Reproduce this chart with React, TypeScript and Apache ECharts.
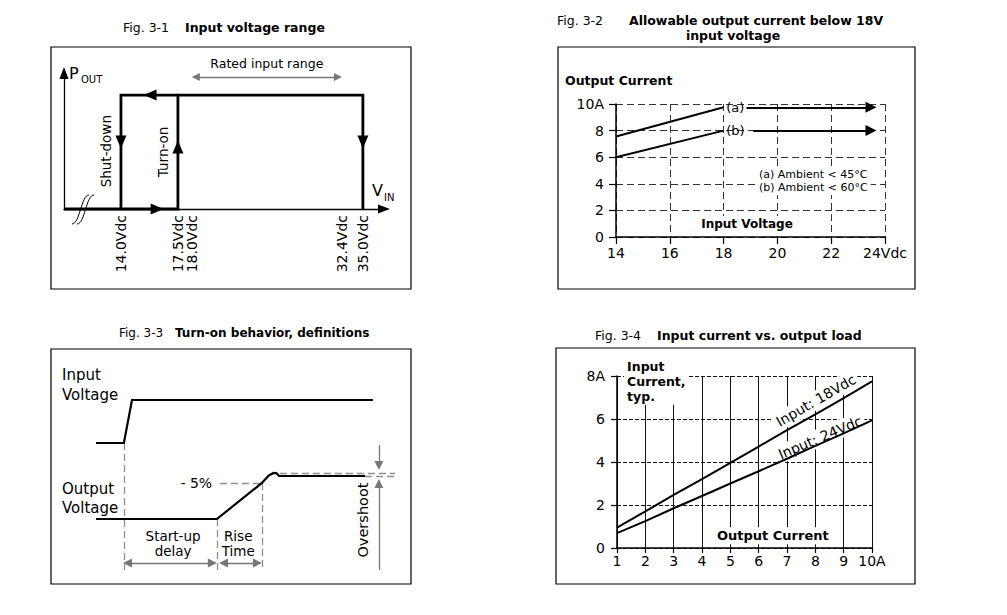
import React, { useEffect, useRef } from "react";
import * as echarts from "echarts";

const FONT = "'DejaVu Sans', Verdana, sans-serif";
const BLACK = "#000";
const GRAY = "#8f8f8f";
const AGRAY = "#777";

// ---------- Fig. 3-1 : schematic positions on a 0..100 scale ----------
const fig1Labels = ["14.0Vdc", "17.5Vdc", "18.0Vdc", "32.4Vdc", "35.0Vdc"];
const fig1Pos = [17.8, 35.6, 40, 86.9, 93.4];
const fig1PowerLevel = 83.8;
const fig1DashTop = 105.9;
const fig1RatedLevel = 97;
const fig1RatedArrow = [41.2, 85.6];
const fig1ArrowX = [29.1, 26.9];
const fig1ArrowY = [49.3, 45.6, 49.3];

// ---------- Fig. 3-2 ----------
const fig2VoltTicks = [14, 16, 18, 20, 22, 24];
const fig2CurrTicks = [0, 2, 4, 6, 8, 10];
const fig2CurveA = [[14, 7.55], [18, 9.75]];
const fig2CurveB = [[14, 6.0], [18, 8.0]];
const fig2ArrowA = [[18.85, 9.75], [23.48, 9.75]];
const fig2ArrowB = [[19.1, 8.0], [23.48, 8.0]];

// ---------- Fig. 3-3 : schematic time / level on 0..100 scales ----------
const fig3InputX = [0, 9.3, 12, 92.3];
const fig3InputY = [74.7, 74.7, 100, 100];
const fig3OutputX = [0, 40.3, 55.3, 57.6, 59.2, 60.2, 61, 89.7];
const fig3OutputY = [30, 30, 51.2, 55.6, 57.1, 56.9, 55.3, 55.3];
const fig3Events = [9.3, 40.3, 55.3];
const fig3FivePct = 51.2;
const fig3Peak = 57.1;
const fig3Settled = 55.3;

// ---------- Fig. 3-4 ----------
const fig4Load = [1, 2, 3, 4, 5, 6, 7, 8, 9, 10];
const fig4In18 = [0.95, 1.7, 2.47, 3.2, 3.96, 4.72, 5.48, 6.22, 6.97, 7.75];
const fig4In24 = [0.69, 1.25, 1.85, 2.42, 3.0, 3.57, 4.15, 4.75, 5.33, 5.94];
const fig4CurrTicks = [0, 2, 4, 6, 8];

function box(x1: number, y1: number, x2: number, y2: number) {
  return {
    type: "rect",
    silent: true,
    shape: { x: x1, y: y1, width: x2 - x1, height: y2 - y1 },
    style: { fill: "none", stroke: BLACK, lineWidth: 1.2 },
  };
}

function txt(x: number, y: number, text: string, o: any = {}) {
  return {
    type: "text",
    silent: true,
    x,
    y,
    rotation: o.rot || 0,
    style: {
      text,
      fontSize: o.size || 13,
      fontWeight: o.bold ? "bold" : "normal",
      fontFamily: FONT,
      fill: o.color || BLACK,
      align: o.align || "left",
      textAlign: o.align || "left",
      verticalAlign: "middle",
      textVerticalAlign: "middle",
      lineHeight: o.lh || undefined,
    },
  };
}

function labels(grid: number, items: any[]) {
  return {
    type: "scatter",
    xAxisIndex: grid,
    yAxisIndex: grid,
    symbolSize: 0,
    silent: true,
    clip: false,
    z: 3,
    itemStyle: { opacity: 1, color: BLACK },
    data: items.map((it) => ({
      value: it.value,
      label: {
        show: true,
        position: "inside",
        formatter: it.text,
        align: it.align || "center",
        verticalAlign: it.vAlign || "middle",
        rotate: it.rotate || 0,
        fontSize: it.size || 13,
        fontWeight: it.bold ? "bold" : "normal",
        fontFamily: FONT,
        color: BLACK,
        opacity: 1,
        lineHeight: it.lh || Math.round((it.size || 13) * 1.15),
        backgroundColor: it.bg ? "#fff" : "transparent",
        padding: it.bg ? [1, 3, 1, 3] : 0,
      },
    })),
  };
}

function line(grid: number, data: number[][], width: number, z = 5) {
  return {
    type: "line",
    xAxisIndex: grid,
    yAxisIndex: grid,
    data,
    symbol: "none",
    silent: true,
    clip: false,
    z,
    lineStyle: { color: BLACK, width, cap: "butt", join: "miter" },
  };
}

function marks(grid: number, segs: any[], style: any, size: number) {
  return {
    type: "line",
    xAxisIndex: grid,
    yAxisIndex: grid,
    data: [],
    symbol: "none",
    silent: true,
    z: 4,
    markLine: {
      silent: true,
      animation: false,
      symbol: ["none", "none"],
      symbolSize: size,
      label: { show: false },
      emphasis: { disabled: true },
      lineStyle: style,
      data: segs.map((s) => [
        { coord: s[0], symbol: s[2] === 2 ? "triangle" : "none" },
        { coord: s[1], symbol: s[2] >= 1 ? "triangle" : "none" },
      ]),
    },
  };
}

function valueAxis(grid: number, min: number, max: number, interval: number, fmt: (v: number) => string, margin: number, tickLen: number, split: any) {
  return {
    gridIndex: grid,
    type: "value",
    min,
    max,
    interval,
    axisLine: { show: true, onZero: false, lineStyle: { color: BLACK, width: 1.5 } },
    axisTick: { show: true, length: tickLen, lineStyle: { color: BLACK, width: 1.2 } },
    axisLabel: { fontSize: 14, fontFamily: FONT, color: BLACK, margin, formatter: fmt },
    splitLine: split,
  };
}

function buildOption() {
  const [p14, p175, p18, p324, p35] = fig1Pos;
  const top = fig1PowerLevel;
  const last = (a: number[]) => a[a.length - 1];

  const xAxis: any[] = [
    {
      gridIndex: 0,
      type: "value",
      min: 0,
      max: 100,
      axisLine: { show: true, onZero: false, symbol: ["none", "triangle"], symbolSize: [9, 12], lineStyle: { color: BLACK, width: 1.3 } },
      axisTick: { show: false },
      splitLine: { show: false },
      axisLabel: {
        show: true,
        customValues: fig1Pos,
        rotate: 90,
        margin: 6,
        fontSize: 14,
        fontFamily: FONT,
        color: BLACK,
        formatter: (v: number) => {
          const i = fig1Pos.indexOf(v);
          return i >= 0 ? fig1Labels[i] : "";
        },
      },
    },
    valueAxis(1, fig2VoltTicks[0], last(fig2VoltTicks), 2, (v) => (v === 24 ? "24Vdc" : String(v)), 9, 7,
      { show: true, lineStyle: { color: "#333", width: 1, type: [7, 4] } }),
    { gridIndex: 2, type: "value", min: 0, max: 100, show: false },
    valueAxis(3, fig4Load[0], last(fig4Load), 1, (v) => (v === 10 ? "10A" : String(v)), 6, 5,
      { show: true, lineStyle: { color: "#111", width: 1, type: "solid" } }),
  ];

  const yAxis: any[] = [
    {
      gridIndex: 0,
      type: "value",
      min: 0,
      max: 100,
      axisLine: { show: true, onZero: false, symbol: ["none", "triangle"], symbolSize: [9, 12], lineStyle: { color: BLACK, width: 1.3 } },
      axisTick: { show: false },
      axisLabel: { show: false },
      splitLine: { show: false },
    },
    valueAxis(1, fig2CurrTicks[0], last(fig2CurrTicks), 2, (v) => (v === 10 ? "10A" : String(v)), 12, 7,
      { show: true, lineStyle: { color: "#333", width: 1, type: [7, 4] } }),
    { gridIndex: 2, type: "value", min: 0, max: 100, show: false },
    valueAxis(3, fig4CurrTicks[0], last(fig4CurrTicks), 2, (v) => (v === 8 ? "8A" : String(v)), 12, 6,
      { show: true, lineStyle: { color: "#111", width: 1, type: [4, 2] } }),
  ];

  const grid = [
    { left: 64, top: 73, width: 320, height: 136 },
    { left: 616, top: 104, width: 269, height: 133 },
    { left: 96, top: 400, width: 300, height: 170 },
    { left: 617, top: 376, width: 255, height: 172 },
  ];

  const series: any[] = [
    // ---- Fig 3-1 ----
    line(0, [[0, 0], [p175, 0], [p175, top], [p35, top], [p35, 0]], 2.8),
    line(0, [[p175, top], [p14, top], [p14, 0]], 2.8),
    marks(0, [[[p18, 0], [p18, fig1DashTop], 0], [[p324, 0], [p324, fig1DashTop], 0]],
      { color: GRAY, width: 1.2, type: [6, 4] }, 8),
    marks(0, [[[fig1RatedArrow[0], fig1RatedLevel], [fig1RatedArrow[1], fig1RatedLevel], 2]],
      { color: AGRAY, width: 1.3, type: "solid" }, 8),
    {
      type: "scatter",
      xAxisIndex: 0,
      yAxisIndex: 0,
      symbol: "triangle",
      symbolSize: [11, 13],
      silent: true,
      z: 6,
      itemStyle: { color: BLACK, opacity: 1 },
      data: [
        { value: [fig1ArrowX[0], 0], symbolRotate: -90 },
        { value: [fig1ArrowX[1], top], symbolRotate: 90 },
        { value: [p14, fig1ArrowY[0]], symbolRotate: 180 },
        { value: [p175, fig1ArrowY[1]], symbolRotate: 0 },
        { value: [p35, fig1ArrowY[2]], symbolRotate: 180 },
      ],
    },
    labels(0, [
      { value: [(fig1RatedArrow[0] + fig1RatedArrow[1]) / 2, 107], text: "Rated input range", size: 12.5 },
      { value: [p14 - 4.7, 42.5], text: "Shut-down", size: 13.5, rotate: 90 },
      { value: [p175 - 4.7, 42], text: "Turn-on", size: 13.5, rotate: 90 },
    ]),

    // ---- Fig 3-2 ----
    line(1, fig2CurveA, 2),
    line(1, fig2CurveB, 2),
    marks(1, [[fig2ArrowA[0], fig2ArrowA[1], 1], [fig2ArrowB[0], fig2ArrowB[1], 1]],
      { color: BLACK, width: 2.2, type: "solid" }, 11),
    labels(1, [
      { value: [18.1, 9.75], text: "(a)", size: 13, align: "left" },
      { value: [18.1, 8.0], text: "(b)", size: 13, align: "left" },
      { value: [19.2, 4.21], text: "(a) Ambient < 45°C\n(b) Ambient < 60°C", size: 11, align: "left", lh: 13, bg: true },
      { value: [18.87, 0.98], text: "Input Voltage", size: 12, bold: true, bg: true },
    ]),

    // ---- Fig 3-3 ----
    line(2, fig3InputX.map((x, i) => [x, fig3InputY[i]]), 2.2),
    line(2, fig3OutputX.map((x, i) => [x, fig3OutputY[i]]), 2.2),
    marks(2, [
      [[fig3Events[0], fig3InputY[0]], [fig3Events[0], 0], 0],
      [[fig3Events[1], fig3OutputY[0]], [fig3Events[1], 0], 0],
      [[fig3Events[2], fig3FivePct], [fig3Events[2], 0], 0],
      [[41.3, fig3FivePct], [fig3Events[2], fig3FivePct], 0],
      [[61.3, fig3Peak], [99.7, fig3Peak], 0],
      [[89.7, fig3Settled], [99.7, fig3Settled], 0],
    ], { color: GRAY, width: 1.3, type: [7, 4] }, 8),
    marks(2, [
      [[10.5, 4.1], [38.8, 4.1], 2],
      [[42.5, 4.1], [53.8, 4.1], 2],
      [[94.3, 73.5], [94.3, 61.5], 1],
      [[94.3, 0], [94.3, 50.9], 1],
    ], { color: AGRAY, width: 1.3, type: "solid" }, 9),
    labels(2, [
      { value: [38.7, fig3FivePct], text: "- 5%", size: 14, align: "right" },
      { value: [25.7, 15.8], text: "Start-up\ndelay", size: 13.5, lh: 15 },
      { value: [47.4, 15.8], text: "Rise\nTime", size: 13.5, lh: 15 },
      { value: [89, 29.4], text: "Overshoot", size: 14.5, rotate: 90 },
    ]),

    // ---- Fig 3-4 ----
    labels(3, [
      { value: [1.25, 8.85], text: "Input\nCurrent,\ntyp.", size: 12.5, bold: true, align: "left", vAlign: "top", lh: 15, bg: true },
      { value: [8.02, 6.87], text: "Input: 18Vdc", size: 14, rotate: 30, bg: true },
      { value: [8.17, 5.14], text: "Input: 24Vdc", size: 14, rotate: 23, bg: true },
      { value: [6.5, 0.57], text: "Output Current", size: 13, bold: true, bg: true },
    ]),
    line(3, fig4Load.map((x, i) => [x, fig4In18[i]]), 2),
    line(3, fig4Load.map((x, i) => [x, fig4In24[i]]), 2),
  ];

  const graphic: any[] = [
    box(51, 47, 411, 289),
    box(558, 47, 915, 289),
    box(51, 349, 411, 584),
    box(556, 348, 915, 584),
    // titles
    txt(123, 27, "Fig. 3-1", { size: 12.5 }),
    txt(185, 27, "Input voltage range", { size: 12.5, bold: true }),
    txt(557, 20, "Fig. 3-2", { size: 12.5 }),
    txt(629, 20, "Allowable output current below 18V", { size: 12.5, bold: true }),
    txt(733, 35, "input voltage", { size: 12.5, bold: true, align: "center" }),
    txt(119, 333, "Fig. 3-3", { size: 12 }),
    txt(175, 333, "Turn-on behavior, definitions", { size: 12, bold: true }),
    txt(595, 335, "Fig. 3-4", { size: 12.5 }),
    txt(657, 335, "Input current vs. output load", { size: 12.5, bold: true }),
    // fig 1 axis names
    txt(69, 73, "P", { size: 16 }),
    txt(81, 79, "OUT", { size: 10 }),
    txt(372, 190, "V", { size: 16 }),
    txt(384, 197, "IN", { size: 10 }),
    // axis break
    {
      type: "bezierCurve",
      silent: true,
      shape: { x1: 72, y1: 224, cpx1: 80, cpy1: 224, cpx2: 81, cpy2: 195, x2: 89, y2: 195 },
      style: { stroke: BLACK, lineWidth: 1, fill: "none" },
    },
    {
      type: "bezierCurve",
      silent: true,
      shape: { x1: 77, y1: 224, cpx1: 85, cpy1: 224, cpx2: 86, cpy2: 195, x2: 94, y2: 195 },
      style: { stroke: BLACK, lineWidth: 1, fill: "none" },
    },
    // fig 2 axis name
    txt(565, 80, "Output Current", { size: 12.5, bold: true }),
    // fig 3 names
    txt(62, 385, "Input\nVoltage", { size: 15, lh: 20 }),
    txt(62, 498, "Output\nVoltage", { size: 15, lh: 19 }),
  ];

  return {
    animation: false,
    backgroundColor: "#fff",
    textStyle: { fontFamily: FONT },
    grid,
    xAxis,
    yAxis,
    series,
    graphic,
  };
}

export default function App() {
  const ref = useRef<HTMLDivElement>(null);
  useEffect(() => {
    document.body.style.margin = "0";
    const chart = echarts.init(ref.current as HTMLDivElement, null, { renderer: "svg" });
    chart.setOption(buildOption() as any);
    return () => chart.dispose();
  }, []);
  return <div ref={ref} style={{ width: 1007, height: 615, background: "#fff" }} />;
}
